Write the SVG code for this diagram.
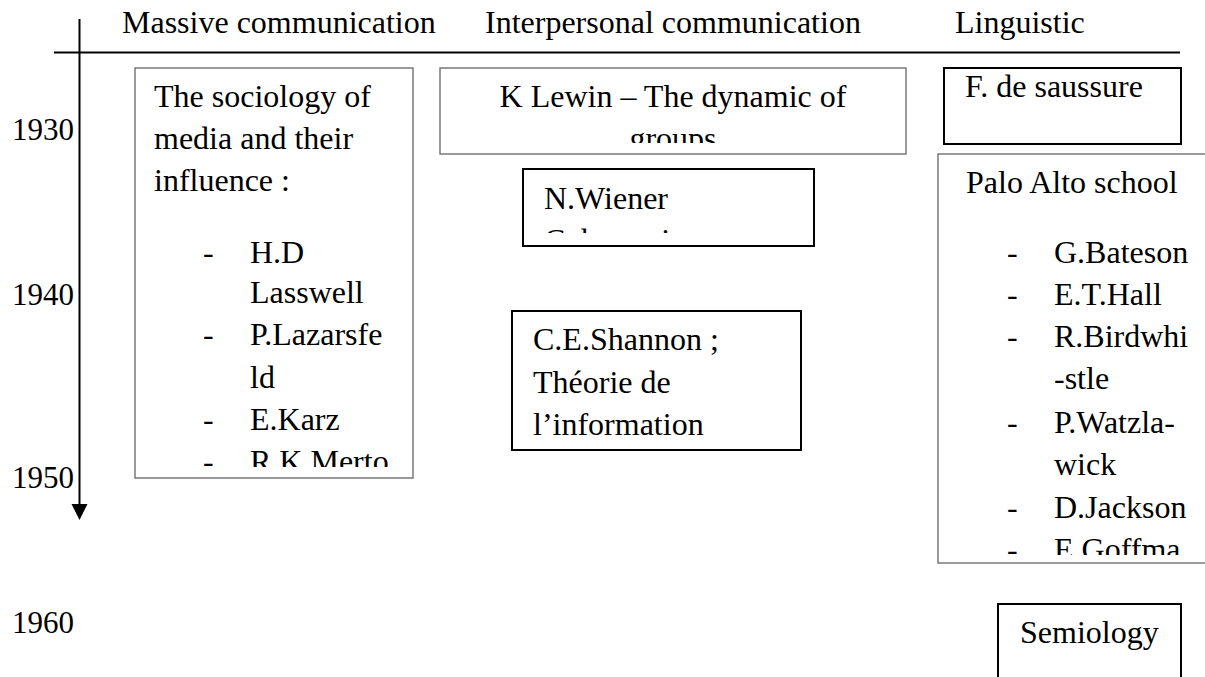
<svg xmlns="http://www.w3.org/2000/svg" width="1205" height="677" viewBox="0 0 1205 677">
  <style>
    text { font-family: "Liberation Serif", "Times New Roman", serif; font-size: 32px; fill: #000; }
    .year { font-size: 31px; }
    .thin { fill: #fff; stroke: #6f6f6f; stroke-width: 1.4; }
    .bold { fill: #fff; stroke: #000; stroke-width: 2; }
    .axis { stroke: #000; stroke-width: 2; fill: none; }
    .mid { text-anchor: middle; }
  </style>
  <defs>
    <clipPath id="clipMedia"><rect x="135" y="68" width="278" height="399"/></clipPath>
    <clipPath id="clipLewin"><rect x="440" y="68" width="466" height="75"/></clipPath>
    <clipPath id="clipWiener"><rect x="523" y="169" width="291" height="64"/></clipPath>
    <clipPath id="clipPalo"><rect x="938" y="154" width="267" height="401"/></clipPath>
  </defs>

  <!-- time axis and header rule -->
  <g id="connectors">
    <line class="axis" x1="54" y1="52.5" x2="1180" y2="52.5"/>
    <line class="axis" x1="79.5" y1="19" x2="79.5" y2="504"/>
    <path d="M71.5,504 L87.5,504 L79.5,520 Z" fill="#000"/>
  </g>

  <!-- column headings -->
  <g id="headers">
    <text x="122" y="33">Massive communication</text>
    <text x="485" y="33">Interpersonal communication</text>
    <text x="955" y="33">Linguistic</text>
  </g>

  <!-- decade labels -->
  <g id="years">
    <text class="year" x="12" y="140">1930</text>
    <text class="year" x="12" y="305">1940</text>
    <text class="year" x="12" y="488">1950</text>
    <text class="year" x="12" y="633">1960</text>
  </g>

  <g id="node-media">
    <rect class="thin" x="135" y="68" width="278" height="410"/>
    <g clip-path="url(#clipMedia)">
      <text x="154" y="107">The sociology of</text>
      <text x="154" y="149">media and their</text>
      <text x="154" y="191">influence :</text>
      <text x="203" y="263">-</text><text x="250" y="263">H.D</text>
      <text x="250" y="303">Lasswell</text>
      <text x="203" y="345">-</text><text x="250" y="345">P.Lazarsfe</text>
      <text x="250" y="388">ld</text>
      <text x="203" y="430">-</text><text x="250" y="430">E.Karz</text>
      <text x="203" y="472">-</text><text x="250" y="472">R.K.Merto</text>
    </g>
  </g>

  <g id="node-lewin">
    <rect class="thin" x="440" y="68" width="466" height="86"/>
    <g clip-path="url(#clipLewin)">
      <text class="mid" x="673" y="107">K Lewin – The dynamic of</text>
      <text class="mid" x="673" y="149">groups</text>
    </g>
  </g>

  <g id="node-wiener">
    <rect class="bold" x="523" y="169" width="291" height="77"/>
    <g clip-path="url(#clipWiener)">
      <text x="544" y="209">N.Wiener</text>
      <text x="544" y="251">Cybernetics</text>
    </g>
  </g>

  <g id="node-shannon">
    <rect class="bold" x="512" y="311" width="289" height="139"/>
    <text x="533" y="350">C.E.Shannon ;</text>
    <text x="533" y="393">Théorie de</text>
    <text x="533" y="435">l’information</text>
  </g>

  <g id="node-saussure">
    <rect class="bold" x="944" y="68" width="237" height="76"/>
    <text x="965" y="97">F. de saussure</text>
  </g>

  <g id="node-paloalto">
    <rect class="thin" x="938" y="154" width="280" height="409"/>
    <g clip-path="url(#clipPalo)">
      <text x="966" y="193">Palo Alto school</text>
      <text x="1007" y="263">-</text><text x="1054" y="263">G.Bateson</text>
      <text x="1007" y="305">-</text><text x="1054" y="305">E.T.Hall</text>
      <text x="1007" y="347">-</text><text x="1054" y="347">R.Birdwhi</text>
      <text x="1054" y="389">-stle</text>
      <text x="1007" y="433">-</text><text x="1054" y="433">P.Watzla-</text>
      <text x="1054" y="475">wick</text>
      <text x="1007" y="518">-</text><text x="1054" y="518">D.Jackson</text>
      <text x="1007" y="560">-</text><text x="1054" y="560">E.Goffma</text>
    </g>
  </g>

  <g id="node-semiology">
    <rect class="bold" x="998" y="604" width="183" height="90"/>
    <text x="1020" y="643">Semiology</text>
  </g>
</svg>
